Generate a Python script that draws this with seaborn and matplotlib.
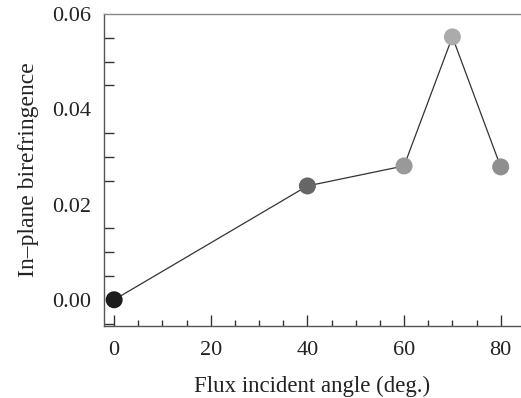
import matplotlib
matplotlib.use("Agg")

import pandas as pd
import matplotlib.pyplot as plt
import seaborn as sns
from matplotlib.ticker import MultipleLocator

angles = [0, 40, 60, 70, 80]
birefringence = [0.0, 0.0239, 0.0281, 0.0552, 0.0279]
point_colors = ["#1c1c1c", "#666666", "#999999", "#ababab", "#8f8f8f"]

df = pd.DataFrame({"angle": angles, "biref": birefringence})

sns.set_style("ticks")
plt.rcParams["font.family"] = ["Liberation Serif", "DejaVu Serif"]

fig = plt.figure(figsize=(5.21, 3.98), dpi=100)
ax = fig.add_axes([0.1996, 0.181, 0.8004, 0.7838])

sns.lineplot(data=df, x="angle", y="biref", color="#333333", linewidth=0.9, ax=ax)
sns.scatterplot(data=df, x="angle", y="biref", hue="angle",
                palette=point_colors, s=150, edgecolor="none",
                legend=False, ax=ax, zorder=3)

ax.set_xlim(-2.1, 84.2)
ax.set_ylim(-0.0055, 0.06)

ax.set_xticks([0, 20, 40, 60, 80])
ax.xaxis.set_minor_locator(MultipleLocator(5))
ax.set_yticks([0.0, 0.02, 0.04, 0.06])
ax.set_yticklabels(["0.00", "0.02", "0.04", "0.06"])
ax.yaxis.set_minor_locator(MultipleLocator(0.005))

ax.tick_params(axis="both", which="both", direction="in", colors="#333333",
               labelcolor="#222222", labelsize=16, width=1)
ax.tick_params(axis="x", which="major", length=8, pad=11)
ax.tick_params(axis="x", which="minor", length=4)
ax.tick_params(axis="y", which="major", length=0, pad=9)
ax.tick_params(axis="y", which="minor", length=7)

for side in ["left", "bottom", "top"]:
    ax.spines[side].set_color("#555555")
    ax.spines[side].set_linewidth(1.0)
ax.spines["right"].set_visible(False)
ax.spines["top"].set_color("#888888")

ax.set_xlabel("Flux incident angle (deg.)", fontsize=16.5, color="#222222", labelpad=11)
ax.set_ylabel("In–plane birefringence", fontsize=17, color="#222222", labelpad=10)

plt.savefig("out.png", dpi=100)
plt.close()
